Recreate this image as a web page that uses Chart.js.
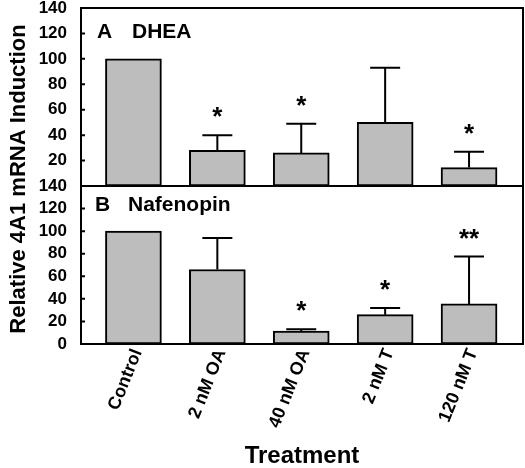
<!DOCTYPE html>
<html>
<head>
<meta charset="utf-8">
<script src="https://cdn.jsdelivr.net/npm/chart.js@4.4.1/dist/chart.umd.min.js"></script>
<style>
  html, body { margin: 0; padding: 0; background: #fff; }
  #wrap { width: 525px; height: 468px; position: relative; }
</style>
</head>
<body>
<div id="wrap"><canvas id="chart"></canvas></div>
<script>
// data
const treatments = ['Control', '2 nM OA', '40 nM OA', '2 nM T', '120 nM T'];
const dheaMeans = [100, 28, 26, 50, 14.5];
const dheaErrors = [0, 12, 23, 43, 12.5];
const dheaMarks = ['', '*', '*', '', '*'];
const nafMeans = [100, 66, 11.5, 26, 35.5];
const nafErrors = [0, 28, 1.5, 6, 42];
const nafMarks = ['', '', '*', '*', '**'];
const yTicks = [0, 20, 40, 60, 80, 100, 120, 140];

const FONT = '"Liberation Sans", Arial, Helvetica, sans-serif';
const BAR_FILL = '#bdbdbd';

// error bars, asterisks, frame and panel labels
const figurePlugin = {
    id: 'figure',
    afterDatasetsDraw(chart) {
        const { ctx, scales } = chart;
        ctx.save();
        chart.data.datasets.forEach(ds => {
            const y = scales[ds.yAxisID];
            ds.means.forEach((m, i) => {
                const x = scales.x.getPixelForValue(i);
                const yTop = y.getPixelForValue(m);
                const yCap = y.getPixelForValue(m + ds.errors[i]);
                if (ds.errors[i] > 0) {
                    ctx.strokeStyle = '#000';
                    ctx.lineWidth = 2;
                    ctx.beginPath();
                    ctx.moveTo(x, yTop);
                    ctx.lineTo(x, yCap);
                    ctx.moveTo(x - 15, yCap);
                    ctx.lineTo(x + 15, yCap);
                    ctx.stroke();
                }
                if (ds.marks[i]) {
                    ctx.fillStyle = '#000';
                    ctx.font = 'bold 26px ' + FONT;
                    ctx.textAlign = 'center';
                    ctx.textBaseline = 'alphabetic';
                    ctx.fillText(ds.marks[i], x, yCap - 10);
                }
            });
        });
        ctx.restore();
    },
    afterDraw(chart) {
        const { ctx, chartArea: a, scales } = chart;
        ctx.save();
        ctx.strokeStyle = '#000';
        ctx.lineWidth = 2;
        ctx.strokeRect(a.left, a.top, a.right - a.left, a.bottom - a.top);
        const mid = scales.yA.bottom;
        ctx.beginPath();
        ctx.moveTo(a.left, mid);
        ctx.lineTo(a.right, mid);
        // inward tick marks
        ['yA', 'yB'].forEach(id => {
            yTicks.forEach(v => {
                const py = scales[id].getPixelForValue(v);
                ctx.moveTo(a.left, py);
                ctx.lineTo(a.left + 4, py);
            });
        });
        ctx.stroke();

        ctx.fillStyle = '#000';
        ctx.font = 'bold 21px ' + FONT;
        ctx.textBaseline = 'middle';
        ctx.textAlign = 'left';
        ctx.fillText('A', 97, 32);
        ctx.fillText('DHEA', 132, 32);
        ctx.fillText('B', 95, 205);
        ctx.fillText('Nafenopin', 128, 205);

        // shared y title
        ctx.font = 'bold 22px ' + FONT;
        ctx.translate(25, 179);
        ctx.rotate(-Math.PI / 2);
        ctx.textAlign = 'center';
        ctx.textBaseline = 'alphabetic';
        ctx.fillText('Relative 4A1 mRNA Induction', 0, 0);
        ctx.restore();
    }
};

function yAxis(weight, hideZero) {
    return {
        type: 'linear',
        position: 'left',
        stack: 'panels',
        stackWeight: weight,
        min: 0,
        max: 140,
        afterBuildTicks: s => { s.ticks = yTicks.map(v => ({ value: v })); },
        afterFit: s => {
            s.width = 81;
            s.paddingTop = 0;
            s.paddingBottom = 0;
        },
        grid: { display: false },
        border: { display: false },
        ticks: {
            padding: 6,
            autoSkip: false,
            color: '#000',
            font: { family: FONT, size: 17, weight: 'bold' },
            callback: v => (hideZero && v === 0 ? '' : v)
        }
    };
}

const barStyle = {
    backgroundColor: BAR_FILL,
    borderColor: '#000',
    borderWidth: 2,
    borderSkipped: false,
    barThickness: 56,
    grouped: false
};

const ctx = document.getElementById('chart');
new Chart(ctx, {
    type: 'bar',
    data: {
        datasets: [
            {
                label: 'DHEA',
                yAxisID: 'yA',
                data: dheaMeans.map((v, i) => ({ x: i, y: v })),
                means: dheaMeans,
                errors: dheaErrors,
                marks: dheaMarks,
                ...barStyle
            },
            {
                label: 'Nafenopin',
                yAxisID: 'yB',
                data: nafMeans.map((v, i) => ({ x: i, y: v })),
                means: nafMeans,
                errors: nafErrors,
                marks: nafMarks,
                ...barStyle
            }
        ]
    },
    options: {
        responsive: true,
        maintainAspectRatio: false,
        animation: false,
        devicePixelRatio: 1,
        layout: { padding: { top: 8, right: 2, left: 0, bottom: 0 } },
        plugins: {
            legend: { display: false },
            tooltip: { enabled: false }
        },
        scales: {
            x: {
                type: 'linear',
                offset: false,
                min: -0.625,
                max: 4.643,
                afterBuildTicks: s => { s.ticks = treatments.map((t, i) => ({ value: i })); },
                afterFit: s => { s.height = 124; },
                grid: { display: false, offset: false, drawTicks: false },
                border: { display: false },
                ticks: {
                    color: '#000',
                    minRotation: 68,
                    maxRotation: 68,
                    padding: 2,
                    labelOffset: 4,
                    autoSkip: false,
                    font: { family: FONT, size: 18, weight: 'bold' },
                    callback: v => treatments[v]
                },
                title: {
                    display: true,
                    text: 'Treatment',
                    color: '#000',
                    padding: { top: 0, bottom: 0 },
                    font: { family: FONT, size: 24, weight: 'bold', lineHeight: 1 }
                }
            },
            yB: yAxis(158, false),
            yA: yAxis(178, true)
        }
    },
    plugins: [figurePlugin]
});
</script>
</body>
</html>
